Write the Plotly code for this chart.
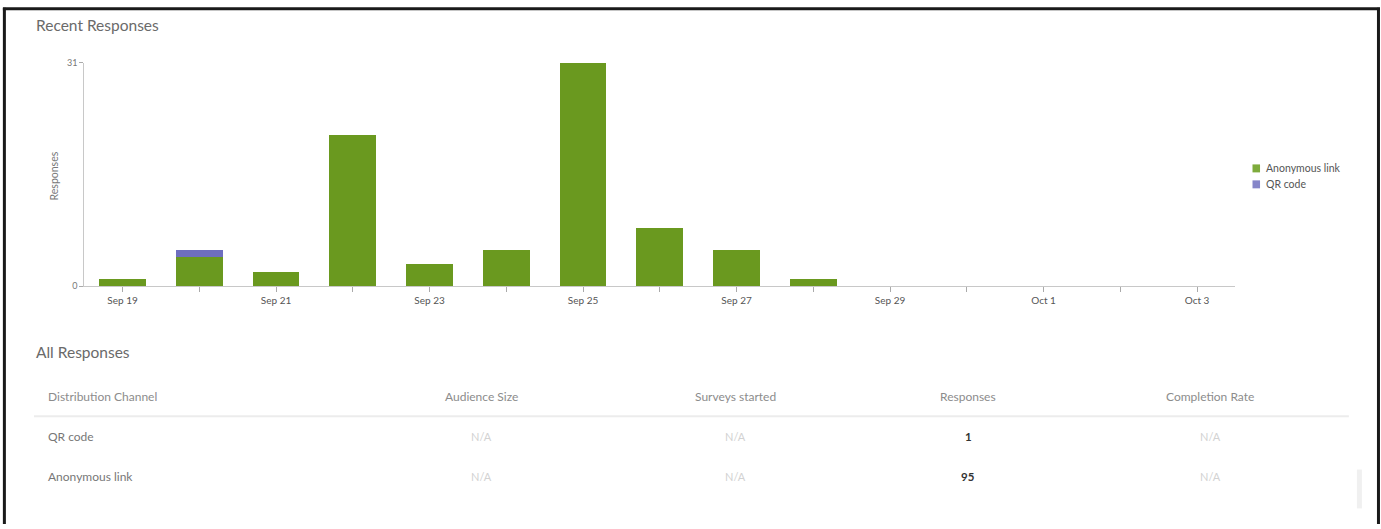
import plotly.graph_objects as go

W, H = 1381, 529

dates = ["Sep 19", "Sep 20", "Sep 21", "Sep 22", "Sep 23", "Sep 24", "Sep 25", "Sep 26",
         "Sep 27", "Sep 28", "Sep 29", "Sep 30", "Oct 1", "Oct 2", "Oct 3"]
anonymous_link = [1, 4, 2, 21, 3, 5, 31, 8, 5, 1, 0, 0, 0, 0, 0]
qr_code = [0, 1, 0, 0, 0, 0, 0, 0, 0, 0, 0, 0, 0, 0, 0]
tick_labels = [d if i % 2 == 0 else "" for i, d in enumerate(dates)]
y_ticks = [0, 31]
series_names = ["Anonymous link", "QR code"]

table_columns = ["Distribution Channel", "Audience Size", "Surveys started", "Responses", "Completion Rate"]
table_channels = ["QR code", "Anonymous link"]
table_audience = ["N/A", "N/A"]
table_started = ["N/A", "N/A"]
table_responses = ["1", "95"]
table_completion = ["N/A", "N/A"]

GREEN = "#6a991f"
PURPLE = "#6e6ebf"
LEG_GREEN = "#7eab3c"
LEG_PURPLE = "#8686c9"
FONT = "Lato"

# map target pixel positions to paper coordinates (compensating for capture scaling)
def rx(x):
    return ((x - 2.13) / 0.9963) / W

def ry(y):
    return 1 - ((y - 5.14) / 0.982) / H

fig = go.Figure()
fig.add_trace(go.Bar(x=dates, y=anonymous_link, name=series_names[0],
                     marker=dict(color=GREEN, line=dict(width=0))))
fig.add_trace(go.Bar(x=dates, y=qr_code, name=series_names[1],
                     marker=dict(color=PURPLE, line=dict(width=0))))

plot_l, plot_r, plot_t, plot_b = 86, 1233, 62, 286

fig.update_layout(
    width=W, height=H,
    margin=dict(l=0, r=0, t=0, b=0),
    paper_bgcolor="white", plot_bgcolor="white",
    barmode="stack", bargap=0.39,
    font=dict(family=FONT, color="#555"),
    showlegend=False,
    xaxis=dict(domain=[rx(plot_l), rx(plot_r)], type="category",
               range=[-0.5, len(dates) - 0.5],
               tickmode="array", tickvals=dates, ticktext=tick_labels,
               showline=True, linecolor="#c8c8c8", linewidth=1,
               ticks="outside", ticklen=5, tickcolor="#aaa", tickwidth=1,
               tickfont=dict(size=10, color="#555"), showgrid=False, zeroline=False,
               fixedrange=True),
    yaxis=dict(domain=[ry(plot_b), ry(plot_t)], range=[0, 31],
               tickmode="array", tickvals=y_ticks,
               showline=True, linecolor="#c8c8c8", linewidth=1,
               ticks="outside", ticklen=4, tickcolor="#aaa",
               tickfont=dict(size=9, color="#777"), showgrid=False, zeroline=False,
               fixedrange=True),
)

annotations = []
def text(x, y, s, size, color, anchor="left", bold=False, angle=0):
    annotations.append(dict(xref="paper", yref="paper", x=rx(x), y=ry(y),
                            text=f"<b>{s}</b>" if bold else s, textangle=angle,
                            showarrow=False, xanchor=anchor, yanchor="middle",
                            font=dict(size=size, color=color, family=FONT)))

text(36, 24, "Recent Responses", 15.5, "#6a6a6a")
text(36, 352, "All Responses", 15.5, "#6a6a6a")
text(56, 176, "Responses", 10.5, "#777", anchor="center", angle=-90)

shapes = []
# legend
leg_colors = [LEG_GREEN, LEG_PURPLE]
for i, name in enumerate(series_names):
    yc = 168 + 16 * i
    shapes.append(dict(type="rect", xref="paper", yref="paper", x0=rx(1250), x1=rx(1257.5),
                       y0=ry(yc + 4), y1=ry(yc - 4), fillcolor=leg_colors[i], line=dict(width=0)))
    text(1261, yc, name, 10.5, "#555")

col_x = [48, 482, 735, 967, 1208]
for i, c in enumerate(table_columns):
    text(col_x[i], 397, c, 12, "#8c8c8c", anchor="left" if i == 0 else "center")

row_y = [437, 477]
for r in range(len(table_channels)):
    text(col_x[0], row_y[r], table_channels[r], 12, "#777")
    text(col_x[1], row_y[r], table_audience[r], 11, "#d2d2d2", anchor="center")
    text(col_x[2], row_y[r], table_started[r], 11, "#d2d2d2", anchor="center")
    text(col_x[3], row_y[r], table_responses[r], 11.5, "#333", anchor="center", bold=True)
    text(col_x[4], row_y[r], table_completion[r], 11, "#d2d2d2", anchor="center")

shapes += [
    # table header separator
    dict(type="line", xref="paper", yref="paper", x0=rx(36), x1=rx(1346), y0=ry(416.5), y1=ry(416.5),
         line=dict(color="#ececec", width=2)),
    # scrollbar
    dict(type="rect", xref="paper", yref="paper", x0=rx(1354), x1=rx(1359), y0=ry(509), y1=ry(470),
         fillcolor="#f0f0f0", line=dict(width=0)),
    # screenshot frame
    dict(type="line", xref="paper", yref="paper", x0=rx(6.5), x1=rx(6.5), y0=0, y1=ry(7),
         line=dict(color="#1a1a1a", width=3)),
    dict(type="line", xref="paper", yref="paper", x0=rx(5), x1=rx(1377), y0=ry(8), y1=ry(8),
         line=dict(color="#1a1a1a", width=3)),
    dict(type="line", xref="paper", yref="paper", x0=rx(1375.5), x1=rx(1375.5), y0=0, y1=ry(7),
         line=dict(color="#1a1a1a", width=3)),
]

fig.update_layout(annotations=annotations, shapes=shapes)

fig.write_html("out.html", config={"displayModeBar": False})
